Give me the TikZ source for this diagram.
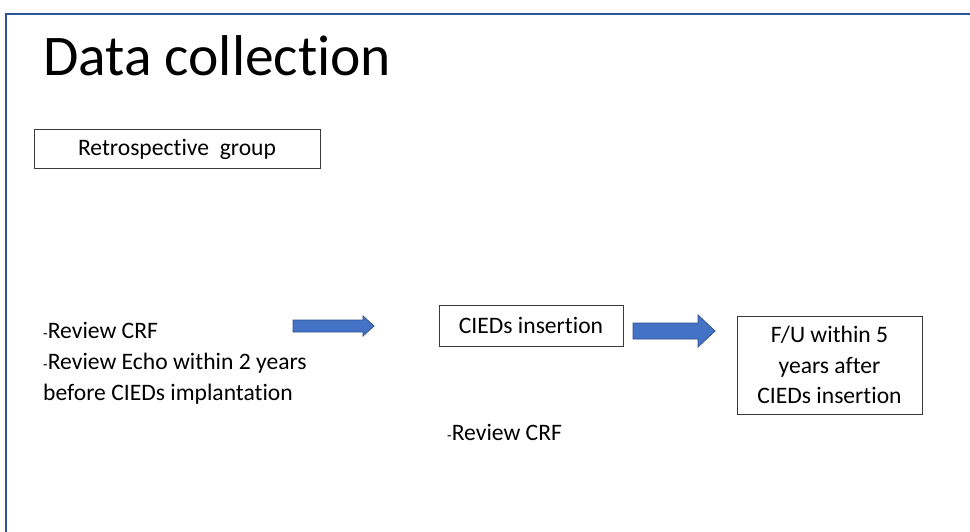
\documentclass[tikz,border=0pt]{standalone}
\usepackage{fontspec}
\setmainfont{Carlito}[Ligatures=NoCommon]
\definecolor{frameblue}{HTML}{2F5597}
\definecolor{arrfill}{HTML}{4472C4}
\definecolor{arrline}{HTML}{2F528F}
\definecolor{boxline}{HTML}{3A3A3A}
\newcommand\blockarr[6]{%
  \filldraw[arrstyle] (#1,#3-#4) -- (#2-#6,#3-#4) -- (#2-#6,#3-#5) -- (#2,#3)
    -- (#2-#6,#3+#5) -- (#2-#6,#3+#4) -- (#1,#3+#4) -- cycle;}
\newcommand\smdash{{\fontsize{15}{15}\selectfont -}}
\begin{document}
\begin{tikzpicture}[x=1pt,y=-1pt,
  arrstyle/.style={fill=arrfill,draw=arrline,line width=0.8pt},
  boxstyle/.style={draw=boxline,line width=1pt,inner sep=0pt},
  body/.style={font=\fontsize{23.6}{30.5}\selectfont,inner sep=0pt},
]
\useasboundingbox (0,0) rectangle (970,532);
\fill[white] (0,0) rectangle (970,532);
% frame
\draw[frameblue,line width=2.5pt] (6,532) -- (6,14) -- (970,14);
% title
\node[anchor=base west,inner sep=0pt,font=\fontsize{57.5}{60}\selectfont] (title) at (43,76) {Data collection};
% retrospective box
\node[boxstyle,minimum width=286pt,minimum height=39pt] (retro) at (177,149.5) {};
\node[body] (retrotext) at (retro.center) {Retrospective\ \ group};
% left text
\node[body,anchor=base west] (l1) at (43,338) {\smdash Review CRF};
\node[body,anchor=base west] (l2) at (43,369) {\smdash Review Echo within 2 years};
\node[body,anchor=base west] (l3) at (43,400) {before CIEDs implantation};
% CIEDs box
\node[boxstyle,minimum width=184pt,minimum height=41pt] (cieds) at (531,325.5) {};
\node[body] (ciedstext) at (cieds.center) {CIEDs insertion};
% FU box
\node[boxstyle,minimum width=185pt,minimum height=98pt] (fu) at (829.5,365) {};
\node[body,align=center] (futext) at (fu.center) {F/U within 5\\years after\\CIEDs insertion};
% bottom text
\node[body,anchor=base west] (l4) at (447,440) {\smdash Review CRF};
% arrows
\blockarr{293}{374}{326}{6}{10}{11}
\blockarr{633}{715}{331}{8}{16}{17}
\end{tikzpicture}
\end{document}
